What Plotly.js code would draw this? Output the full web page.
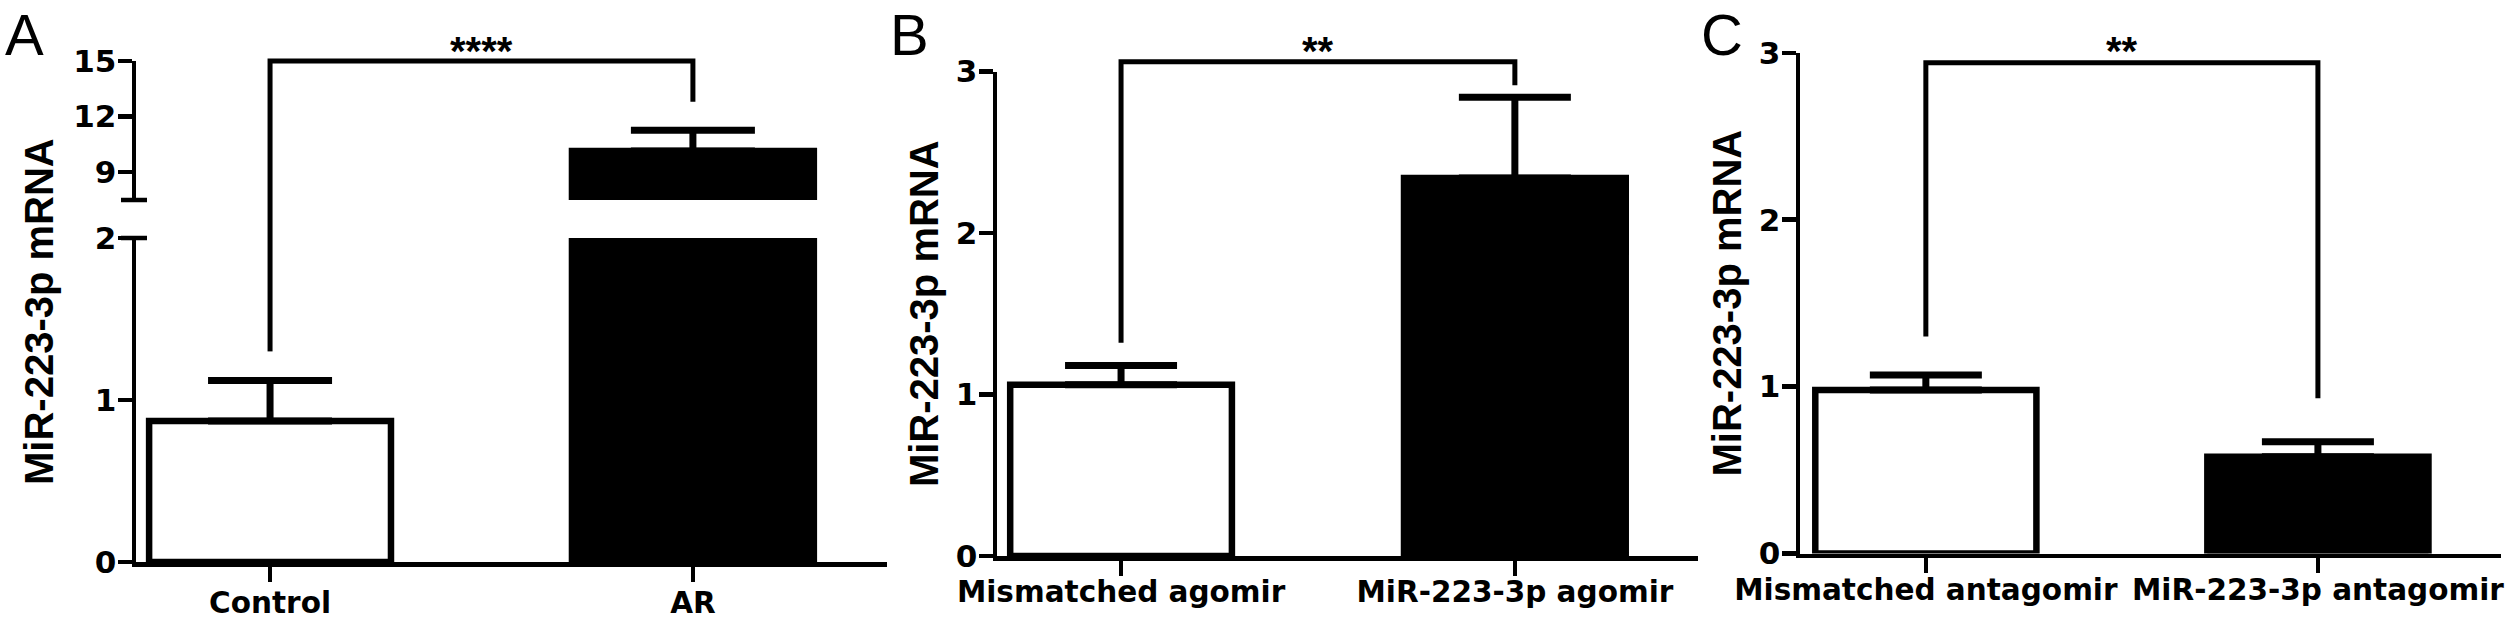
<!DOCTYPE html>
<html>
<head>
<meta charset="utf-8">
<script src="https://cdn.plot.ly/plotly-3.0.1.min.js"></script>
<style>
  html, body { margin: 0; padding: 0; background: #ffffff; }
  #chart { width: 2508px; height: 622px; }
</style>
</head>
<body>
<div id="chart"></div>
<script>
// ---------------- DATA ----------------
const categoriesA = ["Control", "AR"];
const meansA = [0.87, 10.15];
const errorsA = [0.25, 1.12];

const categoriesB = ["Mismatched agomir", "MiR-223-3p agomir"];
const meansB = [1.06, 2.34];
const errorsB = [0.12, 0.50];

const categoriesC = ["Mismatched antagomir", "MiR-223-3p antagomir"];
const meansC = [0.98, 0.58];
const errorsC = [0.09, 0.09];

const barFills = ["#ffffff", "#000000"];

// significance brackets: bracket height, left end, right end
const bracketA = { top: 15, left: 1.30, right: 12.8, label: "****" };
const bracketB = { top: 3.06, left: 1.32, right: 2.915, label: "**" };
const bracketC = { top: 2.94, left: 1.30, right: 0.93, label: "**" };

const yTicksA_low = [0, 1, 2];
const yTicksA_high = [9, 12, 15];
const yTicksBC = [0, 1, 2, 3];
const yTitle = "MiR-223-3p mRNA";
const panelLetters = ["A", "B", "C"];

// ---------------- LAYOUT HELPERS ----------------
const W = 2508, H = 622;
const fx = v => v / W;          // pixel -> paper x
const fy = v => 1 - v / H;      // pixel -> paper y
const FONT = "Liberation Sans, Arial, Helvetica, sans-serif";
const TICKFONT = "DejaVu Sans, Liberation Sans, Arial, sans-serif";
const AXW = 4.5;

const domXA = [fx(136), fx(887)];
const domYA = [fy(562), fy(238)];
const domYA2 = [fy(200), fy(61)];
const domXB = [fx(997), fx(1698)];
const domYB = [fy(556), fy(71.5)];
const domXC = [fx(1800), fx(2501)];
const domYC = [fy(553.5), fy(52.8)];

const xRangeA = [-0.317, 1.459];
const xRangeB = [-0.315, 1.465];
const xRangeC = [-0.321, 1.467];
const yRangeA = [0, 2];
const yRangeA2 = [7.5, 15];
const yRangeBC = [0, 3];

function xAxis(domain, range, anchor, labels, standoff) {
  return {
    domain: domain, range: range, anchor: anchor,
    tickmode: "array", tickvals: labels.map((_, i) => i), ticktext: labels,
    showline: true, linecolor: "#000", linewidth: AXW,
    ticks: "outside", ticklen: 15, tickwidth: AXW, tickcolor: "#000",
    showgrid: false, zeroline: false, fixedrange: true,
    ticklabelstandoff: standoff,
    tickfont: { family: TICKFONT, size: 29.5, color: "#000", weight: "bold" }
  };
}
function yAxis(domain, range, anchor, ticks, title) {
  const ax = {
    domain: domain, range: range, anchor: anchor,
    tickmode: "array", tickvals: ticks,
    showline: true, linecolor: "#000", linewidth: AXW,
    ticks: "outside", ticklen: 14, tickwidth: AXW, tickcolor: "#000",
    showgrid: false, zeroline: false, fixedrange: true,
    ticklabelstandoff: -5,
    tickfont: { family: TICKFONT, size: 31, color: "#000", weight: "bold" }
  };
  if (title) {
    ax.title = { text: title, standoff: 6,
      font: { family: FONT, size: 40, color: "#000", weight: "bold" } };
  }
  return ax;
}

function barTrace(xa, ya, means, errs, capHalf, width) {
  return {
    type: "bar", xaxis: xa, yaxis: ya,
    x: means.map((_, i) => i), y: means, width: width,
    marker: { color: barFills, line: { color: "#000", width: 6.5 } },
    error_y: { type: "data", symmetric: false, array: errs, arrayminus: errs.map(() => 0),
               color: "#000", thickness: 7, width: capHalf, visible: true },
    hoverinfo: "skip", showlegend: false
  };
}

const data = [
  barTrace("x", "y", meansA, errorsA, 62, 0.572),
  barTrace("x", "y2", meansA, errorsA, 62, 0.572),
  barTrace("x2", "y3", meansB, errorsB, 56, 0.563),
  barTrace("x3", "y4", meansC, errorsC, 56, 0.564)
];

const LW = 5;
const lineStyle = { color: "#000", width: LW };
const shapes = [];
// Panel A bracket (crosses the axis break)
shapes.push({ type: "path", xref: "x", yref: "y2", line: lineStyle,
  path: `M0,${yRangeA2[0]} V${bracketA.top} H1 V${bracketA.right}` });
shapes.push({ type: "line", xref: "x", yref: "paper", line: lineStyle,
  x0: 0, x1: 0, y0: domYA[1], y1: domYA2[0] });
shapes.push({ type: "line", xref: "x", yref: "y", line: lineStyle,
  x0: 0, x1: 0, y0: yRangeA[1], y1: bracketA.left });
// Panel B, C brackets
shapes.push({ type: "path", xref: "x2", yref: "y3", line: lineStyle,
  path: `M0,${bracketB.left} V${bracketB.top} H1 V${bracketB.right}` });
shapes.push({ type: "path", xref: "x3", yref: "y4", line: lineStyle,
  path: `M0,${bracketC.left} V${bracketC.top} H1 V${bracketC.right}` });
// axis-break caps on panel A
shapes.push({ type: "line", xref: "paper", xsizemode: "pixel", xanchor: domXA[0],
  x0: -15, x1: 11, yref: "y domain", y0: 1, y1: 1, line: { color: "#000", width: AXW } });
shapes.push({ type: "line", xref: "paper", xsizemode: "pixel", xanchor: domXA[0],
  x0: -15, x1: 11, yref: "y2 domain", y0: 0, y1: 0, line: { color: "#000", width: AXW } });

const starFont = { family: FONT, size: 40, color: "#000", weight: "bold" };
const letterFont = { family: FONT, size: 58, color: "#000" };
const annotations = [
  { text: bracketA.label, xref: "x", x: 0.5, yref: "paper", y: fy(51), yanchor: "middle", showarrow: false, font: starFont },
  { text: bracketB.label, xref: "x2", x: 0.5, yref: "paper", y: fy(51), yanchor: "middle", showarrow: false, font: starFont },
  { text: bracketC.label, xref: "x3", x: 0.5, yref: "paper", y: fy(51), yanchor: "middle", showarrow: false, font: starFont },
  { text: yTitle, xref: "paper", x: fx(39), yref: "paper", y: fy(312), textangle: -90,
    xanchor: "center", yanchor: "middle", showarrow: false,
    font: { family: FONT, size: 40, color: "#000", weight: "bold" } },
  { text: panelLetters[0], xref: "paper", x: fx(3), yref: "paper", y: 1, xanchor: "left", yanchor: "top",
    showarrow: false, font: letterFont },
  { text: panelLetters[1], xref: "paper", x: fx(888), yref: "paper", y: 1, xanchor: "left", yanchor: "top",
    showarrow: false, font: letterFont },
  { text: panelLetters[2], xref: "paper", x: fx(1699), yref: "paper", y: 1, xanchor: "left", yanchor: "top",
    showarrow: false, font: letterFont }
];

const layout = {
  width: W, height: H,
  margin: { l: 0, r: 0, t: 0, b: 0, pad: 0 },
  paper_bgcolor: "#fff", plot_bgcolor: "rgba(0,0,0,0)",
  showlegend: false, bargap: 0,
  xaxis: xAxis(domXA, xRangeA, "y", categoriesA, -4),
  yaxis: yAxis(domYA, yRangeA, "x", yTicksA_low, null),
  yaxis2: yAxis(domYA2, yRangeA2, "x", yTicksA_high, null),
  xaxis2: xAxis(domXB, xRangeB, "y3", categoriesB, -9),
  yaxis3: yAxis(domYB, yRangeBC, "x2", yTicksBC, yTitle),
  xaxis3: xAxis(domXC, xRangeC, "y4", categoriesC, -8),
  yaxis4: yAxis(domYC, yRangeBC, "x3", yTicksBC, yTitle),
  shapes: shapes, annotations: annotations
};

const gd = document.getElementById("chart");
Plotly.newPlot(gd, data, layout, { staticPlot: true, displayModeBar: false }).then(() => {
  // brackets sit at / above the top of their axes: do not clip them
  gd.querySelectorAll(".shapelayer [clip-path], .shapelayer path, .shapelayer g").forEach(el => {
    el.removeAttribute("clip-path");
    el.style.clipPath = "none";
  });
});
</script>
</body>
</html>
